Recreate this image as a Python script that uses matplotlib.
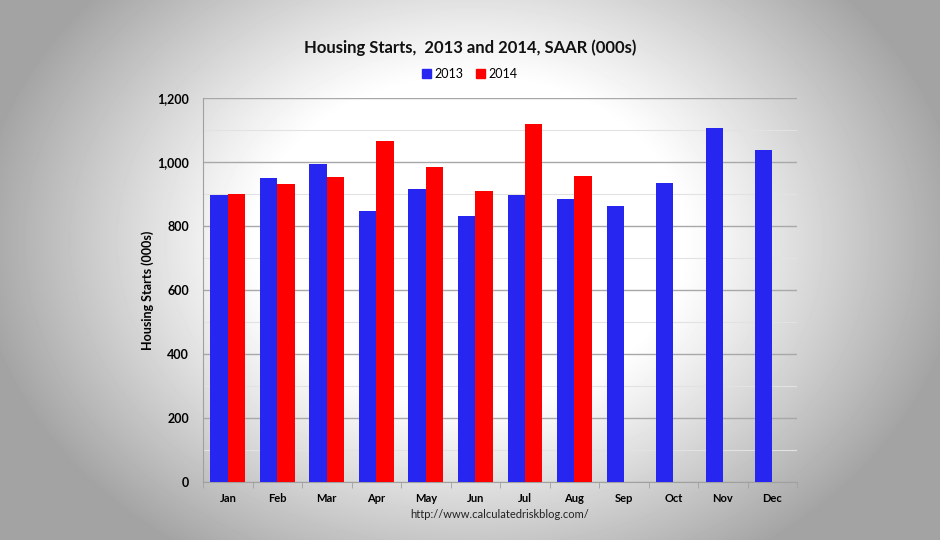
import numpy as np
import matplotlib
matplotlib.use("Agg")
import matplotlib.pyplot as plt
from matplotlib.patches import Patch

months = ["Jan", "Feb", "Mar", "Apr", "May", "Jun", "Jul", "Aug", "Sep", "Oct", "Nov", "Dec"]
starts_2013 = [896, 951, 994, 847, 916, 831, 897, 884, 862, 935, 1107, 1036]
starts_2014 = [899, 930, 952, 1066, 983, 909, 1119, 955]
yticks = [0, 200, 400, 600, 800, 1000, 1200]
ytick_labels = ["0", "200", "400", "600", "800", "1,000", "1,200"]

plt.rcParams['font.family'] = ['Lato', 'DejaVu Sans']

fig = plt.figure(figsize=(9.4, 5.4), dpi=100)

# vignette background
bg = fig.add_axes([0, 0, 1, 1], zorder=-10)
yy, xx = np.mgrid[0:540, 0:940]
dx = (xx - 470) / 470.0
dy = (yy - 240) / 360.0
r = np.sqrt(dx ** 2 + dy ** 2)
t = np.clip((r - 0.45) / 0.6, 0, 1)
val = 1.0 - 0.36 * t ** 1.1
bg.imshow(val, cmap='gray', vmin=0, vmax=1, aspect='auto', extent=[0, 1, 0, 1], interpolation='bilinear')
bg.axis('off')

ax = fig.add_axes([0.216, 0.1074, 0.632, 0.7111])
ax.patch.set_alpha(0)

x = np.arange(len(months))
w = 0.35
blue = '#2626f0'
red = '#ff0000'
ax.bar(x[:len(starts_2013)] - w / 2, starts_2013, w, color=blue, zorder=3, label='2013')
ax.bar(x[:len(starts_2014)] + w / 2, starts_2014, w, color=red, zorder=3, label='2014')

ax.set_xlim(-0.5, len(months) - 0.5)
ax.set_ylim(0, 1200)
ax.set_yticks(yticks)
ax.set_yticklabels(ytick_labels, fontsize=9, fontweight='bold')
ax.set_yticks(np.arange(100, 1200, 200), minor=True)
ax.grid(axis='y', which='major', color='#a8a8a8', lw=1.0, zorder=0)
ax.grid(axis='y', which='minor', color='#e2e2e2', lw=0.8, zorder=0)
ax.tick_params(axis='y', which='both', length=0, pad=10)

ax.set_xticks(x)
ax.set_xticklabels(months, fontsize=8, fontweight='bold')
ax.tick_params(axis='x', which='major', length=0, pad=8)
ax.set_xticks(np.arange(-0.5, len(months) + 0.5, 1), minor=True)
ax.tick_params(axis='x', which='minor', length=4, color='#a0a0a0', direction='out')

for s in ['top', 'right']:
    ax.spines[s].set_visible(False)
ax.spines['left'].set_color('#a0a0a0')
ax.spines['bottom'].set_color('#a0a0a0')

ax.set_ylabel('Housing Starts (000s)', fontsize=9, fontweight='bold', labelpad=2)

fig.text(0.5, 0.911, 'Housing Starts,  2013 and 2014, SAAR (000s)', ha='center', va='center',
         fontsize=12, fontweight='bold', color='#111111')
handles = [Patch(color=blue, label='2013'), Patch(color=red, label='2014')]
fig.legend(handles=handles, loc='center', bbox_to_anchor=(0.5, 0.863), ncol=2, frameon=False,
           fontsize=9, handlelength=0.7, handleheight=0.7, handletextpad=0.3, columnspacing=1.0)
fig.text(0.532, 0.047, 'http://www.calculatedriskblog.com/', ha='center', va='center', fontsize=8, color='#222222')

fig.savefig('out.png', dpi=100)
